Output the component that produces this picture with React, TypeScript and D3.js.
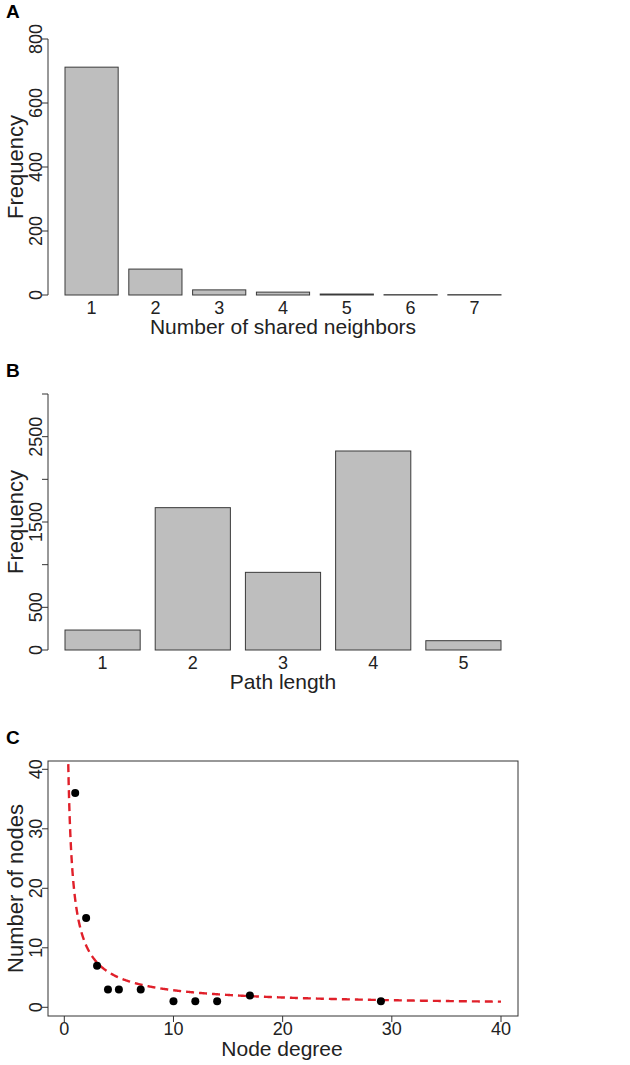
import * as d3 from "d3";

// panel A
const sharedNeighbors = ["1", "2", "3", "4", "5", "6", "7"];
const sharedFreq = [712, 81, 16, 9, 3, 1, 1];
const sharedTicks = [0, 200, 400, 600, 800];

// panel B
const pathLengths = ["1", "2", "3", "4", "5"];
const pathFreq = [234, 1668, 910, 2332, 109];
const pathTicks = [0, 500, 1000, 1500, 2000, 2500, 3000];
const pathTickLabels = [0, 500, 1500, 2500];

// panel C
const nodeDegree = [1, 2, 3, 4, 5, 7, 10, 12, 14, 17, 29];
const nodeCount = [36, 15, 7, 3, 3, 3, 1, 1, 1, 2, 1];
const degreeTicks = [0, 10, 20, 30, 40];
const countTicks = [0, 10, 20, 30, 40];
// power-law fit drawn as dashed line: y = FIT_A * x^FIT_B
const FIT_A = 18.1;
const FIT_B = -0.8;

const FONT = "'Liberation Sans', Arial, sans-serif";
const PLOT_LEFT = 48;
const BAR_LEFT = 65;
const BAR_RIGHT = 501;

function BarPanel({
  label,
  top,
  bottom,
  titleY,
  cats,
  values,
  ticks,
  tickLabels,
  yMax,
  xTitle,
}: {
  label: string;
  top: number;
  bottom: number;
  titleY: number;
  cats: string[];
  values: number[];
  ticks: number[];
  tickLabels: number[];
  yMax: number;
  xTitle: string;
}) {
  const n = cats.length;
  // R barplot layout: width 1, space 0.2
  const x = d3.scaleLinear().domain([0.2, n * 1.2]).range([BAR_LEFT, BAR_RIGHT]);
  const y = d3.scaleLinear().domain([0, yMax]).range([bottom, top]);
  const midY = (top + bottom) / 2;

  return (
    <g>
      <text x={6} y={titleY} fontFamily={FONT} fontWeight="bold" fontSize={19}>
        {label}
      </text>
      {values.map((v, i) => {
        const x0 = x(0.2 + 1.2 * i);
        const x1 = x(1.2 + 1.2 * i);
        return (
          <rect
            key={cats[i]}
            x={x0}
            y={y(v)}
            width={x1 - x0}
            height={Math.max(0, y(0) - y(v))}
            fill="#bebebe"
            stroke="#3a3a3a"
            strokeWidth={1}
          />
        );
      })}
      <line x1={PLOT_LEFT} x2={PLOT_LEFT} y1={y(ticks[0])} y2={y(ticks[ticks.length - 1])} stroke="#333" />
      {ticks.map((t) => (
        <line key={t} x1={PLOT_LEFT - 6} x2={PLOT_LEFT} y1={y(t)} y2={y(t)} stroke="#333" />
      ))}
      {tickLabels.map((t) => (
        <text
          key={t}
          transform={`translate(42,${y(t)}) rotate(-90)`}
          textAnchor="middle"
          fontFamily={FONT}
          fontSize={18}
          fill="#222"
        >
          {t}
        </text>
      ))}
      {cats.map((c, i) => (
        <text
          key={c}
          x={x(0.7 + 1.2 * i)}
          y={bottom + 19}
          textAnchor="middle"
          fontFamily={FONT}
          fontSize={18}
          fill="#222"
        >
          {c}
        </text>
      ))}
      <text
        x={(BAR_LEFT + BAR_RIGHT) / 2}
        y={bottom + 39}
        textAnchor="middle"
        fontFamily={FONT}
        fontSize={21}
        fill="#222"
      >
        {xTitle}
      </text>
      <text
        transform={`translate(23,${midY}) rotate(-90)`}
        textAnchor="middle"
        fontFamily={FONT}
        fontSize={22}
        fill="#222"
      >
        Frequency
      </text>
    </g>
  );
}

function ScatterPanel() {
  const left = PLOT_LEFT;
  const right = 518;
  const top = 761;
  const bottom = 1016;
  const x = d3.scaleLinear().domain([0, 40]).range([64.3, 501]);
  const y = d3.scaleLinear().domain([0, 40]).range([1007.3, 769.3]);

  const fitX = d3.range(0.3, 40.01, 0.05);
  const line = d3
    .line<number>()
    .x((d) => x(d))
    .y((d) => y(FIT_A * Math.pow(d, FIT_B)));

  return (
    <g>
      <text x={6} y={744} fontFamily={FONT} fontWeight="bold" fontSize={19}>
        C
      </text>
      <defs>
        <clipPath id="plotC">
          <rect x={left} y={top} width={right - left} height={bottom - top} />
        </clipPath>
      </defs>
      <path
        d={line(fitX) || ""}
        fill="none"
        stroke="#e0202a"
        strokeWidth={2.4}
        strokeDasharray="8,5"
        clipPath="url(#plotC)"
      />
      {nodeDegree.map((d, i) => (
        <circle key={d} cx={x(d)} cy={y(nodeCount[i])} r={4} fill="#000" />
      ))}
      <rect x={left} y={top} width={right - left} height={bottom - top} fill="none" stroke="#333" />
      {degreeTicks.map((t) => (
        <g key={t}>
          <line x1={x(t)} x2={x(t)} y1={bottom} y2={bottom + 6} stroke="#333" />
          <text x={x(t)} y={1035} textAnchor="middle" fontFamily={FONT} fontSize={18} fill="#222">
            {t}
          </text>
        </g>
      ))}
      {countTicks.map((t) => (
        <g key={t}>
          <line x1={left - 6} x2={left} y1={y(t)} y2={y(t)} stroke="#333" />
          <text
            transform={`translate(42,${y(t)}) rotate(-90)`}
            textAnchor="middle"
            fontFamily={FONT}
            fontSize={18}
            fill="#222"
          >
            {t}
          </text>
        </g>
      ))}
      <text x={282} y={1056} textAnchor="middle" fontFamily={FONT} fontSize={21} fill="#222">
        Node degree
      </text>
      <text
        transform={`translate(23,${(top + bottom) / 2}) rotate(-90)`}
        textAnchor="middle"
        fontFamily={FONT}
        fontSize={22}
        fill="#222"
      >
        Number of nodes
      </text>
    </g>
  );
}

export default function App() {
  return (
    <svg
      width={630}
      height={1065}
      style={{ position: "absolute", left: 0, top: 0, background: "#fff" }}
    >
      <rect width={630} height={1065} fill="#fff" />
      <BarPanel
        label="A"
        top={39}
        bottom={295}
        titleY={18}
        cats={sharedNeighbors}
        values={sharedFreq}
        ticks={sharedTicks}
        tickLabels={sharedTicks}
        yMax={800}
        xTitle="Number of shared neighbors"
      />
      <BarPanel
        label="B"
        top={394}
        bottom={650}
        titleY={377}
        cats={pathLengths}
        values={pathFreq}
        ticks={pathTicks}
        tickLabels={pathTickLabels}
        yMax={3000}
        xTitle="Path length"
      />
      <ScatterPanel />
    </svg>
  );
}
